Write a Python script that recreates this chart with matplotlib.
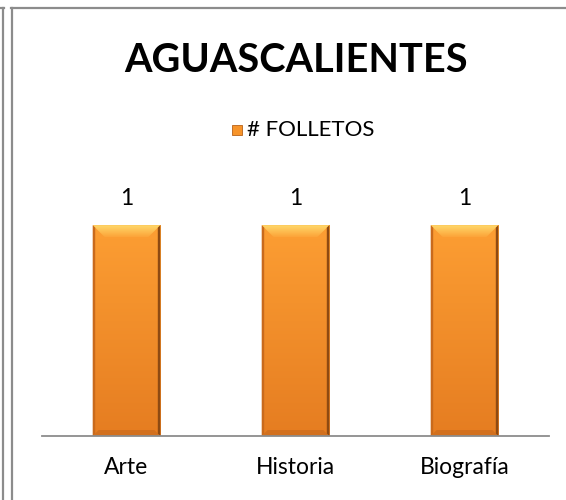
import matplotlib
matplotlib.use("Agg")
import matplotlib.pyplot as plt
import numpy as np
from matplotlib.patches import Polygon
from matplotlib.lines import Line2D

plt.rcParams['font.family'] = ['Lato', 'DejaVu Sans']

title = "AGUASCALIENTES"
series_name = "# FOLLETOS"
categories = ["Arte", "Historia", "Biografía"]
values = [1, 1, 1]

W, H = 566, 500
fig = plt.figure(figsize=(W / 100, H / 100), dpi=100)
fig.patch.set_facecolor('white')

# frame lines
border = '#8c8c8c'
fig.add_artist(Line2D([2.5 / W, 2.5 / W], [0, 1 - 8 / H], color=border, lw=1.6))
fig.add_artist(Line2D([0, 3.5 / W], [1 - 8 / H, 1 - 8 / H], color=border, lw=1.6))
fig.add_artist(Line2D([11.5 / W, 11.5 / W], [0, 1 - 7.5 / H], color=border, lw=1.6))
fig.add_artist(Line2D([11 / W, 1], [1 - 7.5 / H, 1 - 7.5 / H], color=border, lw=1.6))

ax_l, ax_r, ax_t, ax_b = 42, 549, 183, 436
ax = fig.add_axes([ax_l / W, 1 - ax_b / H, (ax_r - ax_l) / W, (ax_b - ax_t) / H])
ax.set_xlim(-0.5, len(categories) - 0.5)
ax.set_ylim(0, 1.2)
for s in ['top', 'right', 'left']:
    ax.spines[s].set_visible(False)
ax.spines['bottom'].set_color('#8c8c8c')
ax.spines['bottom'].set_linewidth(1.3)
ax.spines['bottom'].set_zorder(3)
ax.set_yticks([])
x = np.arange(len(categories))
ax.set_xticks(x)
ax.set_xticklabels(categories, fontsize=16.5)
ax.tick_params(axis='x', length=0, pad=15)

bw = 0.4
bars = ax.bar(x, values, width=bw, color='#F7942A', zorder=2)

xpp = (len(categories)) / (ax_r - ax_l)
ypp = 1.2 / (ax_b - ax_t)


def vgrad(c_top, c_bot, ext, clip, z):
    g = np.linspace(0, 1, 100).reshape(-1, 1)
    ct, cb = np.array(c_top), np.array(c_bot)
    img = (cb + (ct - cb) * g).reshape(100, 1, 3)
    im = ax.imshow(img, extent=ext, origin='lower', aspect='auto', zorder=z)
    im.set_clip_path(clip)


for b in bars:
    x0, y0 = b.get_x(), b.get_y()
    w, h = b.get_width(), b.get_height()
    x1, y1 = x0 + w, y0 + h
    # gradient body
    vgrad([0.99, 0.62, 0.20], [0.90, 0.49, 0.13], [x0, x1, y0, y1], b, 2.1)
    bx = 12 * xpp
    by = 12 * ypp
    bbx = 6 * xpp
    bby = 6 * ypp
    # top bevel
    tp = Polygon([[x0, y1], [x1, y1], [x1 - bx, y1 - by], [x0 + bx, y1 - by]],
                 closed=True, facecolor='none', lw=0, zorder=2.2)
    ax.add_patch(tp)
    vgrad([1.0, 0.85, 0.42], [0.99, 0.64, 0.22], [x0, x1, y1 - by, y1], tp, 2.2)
    # sides
    ax.add_patch(Polygon([[x0, y1], [x0 + 2.5 * xpp, y1 - 2.5 * ypp], [x0 + 2.5 * xpp, y0 + 2.5 * ypp], [x0, y0]],
                         closed=True, color='#C96A1C', lw=0, zorder=2.3))
    ax.add_patch(Polygon([[x1, y1], [x1 - 2.5 * xpp, y1 - 2.5 * ypp], [x1 - 2.5 * xpp, y0 + 2.5 * ypp], [x1, y0]],
                         closed=True, color='#8E4A12', lw=0, zorder=2.3))
    # bottom bevel
    ax.add_patch(Polygon([[x0, y0], [x1, y0], [x1 - bbx, y0 + bby], [x0 + bbx, y0 + bby]],
                         closed=True, color='#D2701E', lw=0, zorder=2.2))
    ax.annotate(f"{b.get_height():g}", (b.get_x() + w / 2, y1), xytext=(0, 19),
                textcoords='offset points', ha='center', va='center', fontsize=16.5)

fig.text(296 / W, 1 - 60 / H, title, ha='center', va='center', fontsize=28.5, fontweight='bold')

# legend
lx, ly = 232, 130
fig.add_artist(plt.Rectangle((lx / W, 1 - (ly + 5) / H), 10 / W, 10 / H, transform=fig.transFigure,
                             facecolor='#F7942A', edgecolor='#B86218', lw=0.6))
fig.text((lx + 15) / W, 1 - ly / H, series_name, ha='left', va='center', fontsize=16)

fig.savefig('out.png', dpi=100)
